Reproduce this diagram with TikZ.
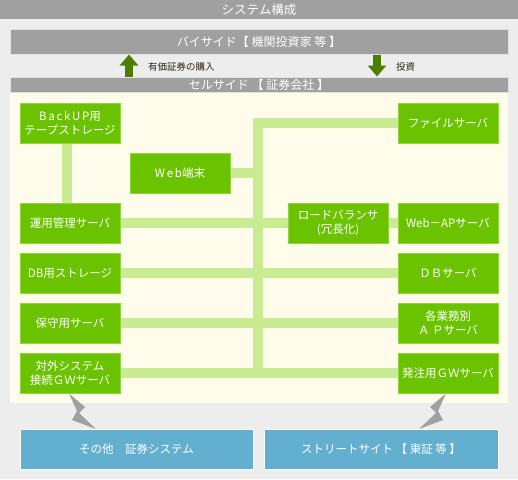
\documentclass[tikz,border=0pt]{standalone}
\usepackage{fontspec}
\setmainfont{Noto Sans CJK JP}
\usetikzlibrary{arrows.meta}
\pgfdeclarelayer{back}
\pgfsetlayers{back,main}
\definecolor{bggray}{HTML}{EDEDED}
\definecolor{bargray}{HTML}{A0A0A0}
\definecolor{cream}{HTML}{FFFCEB}
\definecolor{boxgreen}{HTML}{6BC300}
\definecolor{boxedge}{HTML}{8FD63C}
\definecolor{linkgreen}{HTML}{C9EC92}
\definecolor{boxblue}{HTML}{63AFD0}
\definecolor{arrowgreen}{HTML}{4C7E00}
\definecolor{labeltext}{HTML}{2E2414}
\newcommand{\spaced}[1]{{\addfontfeature{LetterSpace=15}#1}}
\tikzset{
  sys/.style={draw=boxedge, line width=1pt, fill=boxgreen, text=white,
    minimum width=100pt, minimum height=40pt, inner sep=0pt, align=center,
    font=\fontsize{11.5}{14}\selectfont},
  ext/.style={sys, draw=white, fill=boxblue},
  bar/.style={draw=white!70!bargray, line width=1pt, fill=bargray, text=white,
    minimum width=498pt, inner sep=0pt, font=\fontsize{12}{14}\selectfont},
  link/.style={draw=linkgreen, line width=9.5pt, line join=miter},
  bigarrow/.style={draw=arrowgreen, line width=8pt,
    -{Triangle[width=18pt,length=11pt]}},
  note/.style={text=labeltext, anchor=west, inner sep=0pt,
    font=\fontsize{9.5}{11}\selectfont},
  bolt/.style={fill=bargray}
}
\begin{document}
\begin{tikzpicture}[x=1pt,y=-1pt]
  \begin{pgfonlayer}{back}
    \fill[bggray] (0,0) rectangle (518,479);
    \fill[cream] (10,92) rectangle (508,403);
  \end{pgfonlayer}
  \useasboundingbox (0,0) rectangle (518,479);
  % top bars
  \node[bar, draw=none, minimum width=518pt, minimum height=19pt,
    font=\fontsize{12.5}{14}\selectfont] (title) at (259,9.5) {システム構成};
  \node[bar, minimum height=25pt] (buy) at (259,41.5) {バイサイド【 機関投資家 等 】};
  \node[bar, minimum height=15pt] (sell) at (259,84.5) {セルサイド 【 証券会社 】};
  \coordinate (upx) at (129,66);
  \coordinate (downx) at (377,66);
  \draw[bigarrow] (sell.north -| upx) -- (buy.south -| upx);
  \draw[bigarrow] (buy.south -| downx) -- (sell.north -| downx);
  \node[note] (buylbl) at (148,67) {有価証券の購入};
  \node[note] (invlbl) at (396,67) {投資};
  % servers
  \node[sys] (backup) at (70,123) {\spaced{BackUP}用\\テープストレージ};
  \node[sys] (unyo) at (70,223) {運用管理サーバ};
  \node[sys] (dbst) at (70,273) {DB用ストレージ};
  \node[sys] (hoshu) at (70,323) {保守用サーバ};
  \node[sys] (gw) at (70,373) {対外システム\\接続ＧＷサーバ};
  \node[sys] (web) at (180,173) {\spaced{Web}端末};
  \node[sys] (lb) at (338,223) {ロードバランサ\\(冗長化)};
  \node[sys] (file) at (448,123) {ファイルサーバ};
  \node[sys] (webap) at (448,223) {Web－APサーバ};
  \node[sys] (dbsv) at (448,273) {ＤＢサーバ};
  \node[sys] (apsv) at (448,323) {各業務別\\Ａ Ｐサーバ};
  \node[sys] (order) at (448,373) {発注用ＧＷサーバ};
  % links
  \coordinate (bustop) at (258,123);
  \coordinate (busend) at (258,373);
  \begin{pgfonlayer}{back}
    \draw[link] (file.west) -- (bustop) -- (busend);
    \draw[link] ([xshift=-3pt]backup.south) -- ([xshift=-3pt]unyo.north);
    \draw[link] (web.east) -- (web.east -| bustop);
    \draw[link] (unyo.east) -- (lb.west);
    \draw[link] (lb.east) -- (webap.west);
    \draw[link] (dbst.east) -- (dbsv.west);
    \draw[link] (hoshu.east) -- (apsv.west);
    \draw[link] (gw.east) -- (order.west);
  \end{pgfonlayer}
  % outside systems
  \node[ext, minimum width=233pt] (other) at (136.5,449) {その他　証券システム};
  \node[ext, minimum width=234pt] (street) at (381,449) {ストリートサイト 【 東証 等 】};
  \fill[bolt] ([xshift=-1pt]gw.south) -- (85,407) -- (79,413) -- (96,429)
    -- (72,420) -- (77,411) -- cycle;
  \fill[bolt] ([xshift=-2pt]order.south) -- (430,407) -- (436,413) -- (419,429)
    -- (443,420) -- (438,411) -- cycle;
\end{tikzpicture}
\end{document}
